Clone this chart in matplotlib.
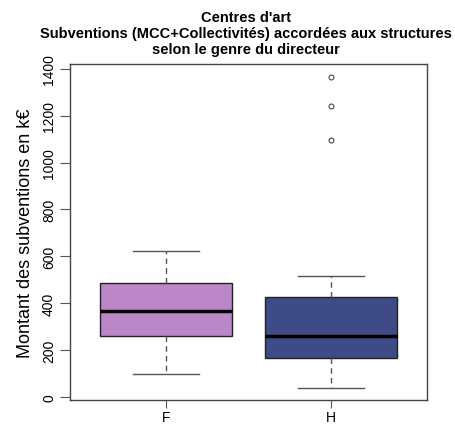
import matplotlib.pyplot as plt

plt.rcParams['font.family'] = ['Liberation Sans', 'DejaVu Sans']

# groups and box statistics (k€)
groups = ['F', 'H']
whislo = [97, 41]
q1 = [262, 166]
med = [368, 262]
q3 = [485, 428]
whishi = [624, 515]
fliers = [[], [1097, 1239, 1364]]
colors = ['#bc87c8', '#3f4b87']

stats = []
for i in range(len(groups)):
    stats.append(dict(label=groups[i], whislo=whislo[i], q1=q1[i], med=med[i],
                      q3=q3[i], whishi=whishi[i], fliers=fliers[i]))

fig = plt.figure(figsize=(4.55, 4.27), dpi=100)
ax = fig.add_axes([0.1538, 0.0609, 0.7847, 0.7869])

bp = ax.bxp(stats, positions=[1, 2], widths=0.8, patch_artist=True,
            boxprops=dict(edgecolor='#222222', linewidth=1),
            medianprops=dict(color='black', linewidth=2.5),
            whiskerprops=dict(color='#555555', linestyle=(0, (4, 3)), linewidth=1),
            capprops=dict(color='#555555', linewidth=1),
            capwidths=0.4,
            flierprops=dict(marker='o', markersize=3.5, markerfacecolor='none',
                            markeredgecolor='#444444', markeredgewidth=0.8))
for patch, c in zip(bp['boxes'], colors):
    patch.set_facecolor(c)

ax.set_xlim(0.42, 2.58)
ax.set_ylim(-12, 1420)
ax.set_yticks([0, 200, 400, 600, 800, 1000, 1200, 1400])
ax.set_xticks([1, 2])
ax.set_xticklabels(groups)
ax.tick_params(axis='y', labelrotation=90, labelsize=10, length=7, color='#555555', pad=3)
ax.tick_params(axis='x', labelsize=10, length=6, color='#555555', pad=1.5)
for lab in ax.get_yticklabels():
    lab.set_verticalalignment('center')
for s in ax.spines.values():
    s.set_color('#444444')
    s.set_linewidth(1)

ax.set_ylabel('Montant des subventions en k€', fontsize=13, labelpad=6)
fig.text(0.54, 0.975, "Centres d'art\nSubventions (MCC+Collectivités) accordées aux structures\nselon le genre du directeur",
         ha='center', va='top', fontsize=10.5, fontweight='bold', linespacing=1.2)

fig.savefig('out.png', dpi=100)
